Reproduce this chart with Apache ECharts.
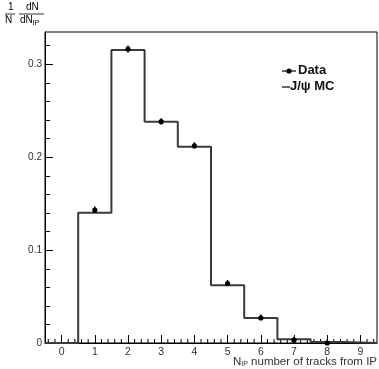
<!DOCTYPE html>
<html>
<head>
<meta charset="utf-8">
<script src="https://cdn.jsdelivr.net/npm/echarts@6/dist/echarts.min.js"></script>
<style>html,body{margin:0;padding:0;background:#fff}#c{width:379px;height:369px}</style>
</head>
<body>
<div id="c"></div>
<script>
// bin centres (number of tracks from IP)
var bins = [0, 1, 2, 3, 4, 5, 6, 7, 8, 9];
// J/psi MC histogram contents
var mcValues = [0, 0.140, 0.315, 0.238, 0.211, 0.062, 0.027, 0.004, 0.001, 0];
// Data points
var dataX = [1, 2, 3, 4, 5, 6, 7, 8];
var dataValues = [0.143, 0.316, 0.238, 0.212, 0.064, 0.027, 0.003, 0.0];
var dataErrors = [0.003, 0.004, 0.003, 0.003, 0.002, 0.001, 0.001, 0.0];
// tick labels
var xTicks = [0, 1, 2, 3, 4, 5, 6, 7, 8, 9];

var FONT = 'Liberation Sans, Arial, sans-serif';

var stepPts = [];
bins.forEach(function (b, i) {
  stepPts.push([b - 0.5, mcValues[i]]);
  stepPts.push([b + 0.5, mcValues[i]]);
});
var minorX = [];
for (var k = -2; k <= 47; k++) {
  var v = Math.round(k * 0.2 * 100) / 100;
  if (v > -0.5 && v < 9.5 && Math.abs(v - Math.round(v)) > 1e-6) minorX.push([v, 0]);
}
var minorY = [];
for (var j = 1; j <= 16; j++) {
  if (j % 5 !== 0) minorY.push([0, Math.round(j * 0.02 * 1000) / 1000]);
}
var pts = dataX.map(function (x, i) { return [x, dataValues[i], dataErrors[i]]; });

var chart = echarts.init(document.getElementById('c'), null, {renderer: 'canvas'});
chart.setOption({
  animation: false,
  backgroundColor: '#fff',
  grid: {left: 45, right: 2, top: 32, bottom: 26, show: true, borderColor: '#000', borderWidth: 1, backgroundColor: 'transparent'},
  xAxis: {
    type: 'value', min: -0.5, max: 9.5,
    axisLine: {show: true, onZero: false, lineStyle: {color: '#000', width: 1}},
    axisTick: {show: true, inside: true, length: 8, customValues: xTicks, lineStyle: {color: '#000'}},
    axisLabel: {show: true, customValues: xTicks, color: '#333', fontSize: 10.5, fontFamily: FONT, margin: 4},
    splitLine: {show: false}
  },
  yAxis: {
    type: 'value', min: 0, max: 0.3344, interval: 0.1,
    axisLine: {show: true, onZero: false, lineStyle: {color: '#000', width: 1}},
    axisTick: {show: true, inside: true, length: 8, lineStyle: {color: '#000'}},
    minorTick: {show: false},
    axisLabel: {color: '#333', fontSize: 10, fontFamily: FONT, margin: 3, showMaxLabel: false,
      formatter: function (v) { return v === 0 ? '0' : String(Math.round(v * 10) / 10); }},
    splitLine: {show: false}, minorSplitLine: {show: false}
  },
  series: [{
    name: 'J/ψ MC', type: 'line', data: stepPts, symbol: 'none',
    lineStyle: {color: '#3a3a3a', width: 2}, z: 3
  }, {
    name: 'Data', type: 'custom', data: pts, z: 5,
    encode: {x: 0, y: 1},
    renderItem: function (params, api) {
      var c = api.coord([api.value(0), api.value(1)]);
      var lo = api.coord([api.value(0), api.value(1) - api.value(2)]);
      var hi = api.coord([api.value(0), api.value(1) + api.value(2)]);
      return {type: 'group', children: [
        {type: 'line', shape: {x1: c[0], y1: Math.min(lo[1], c[1] + 3.5), x2: c[0], y2: Math.min(hi[1], c[1] - 3.5)}, style: {stroke: '#000', lineWidth: 1.5}},
        {type: 'circle', shape: {cx: c[0], cy: c[1], r: 2.6}, style: {fill: '#000'}}
      ]};
    }
  }, {
    name: 'minorTicksX', type: 'custom', data: minorX, silent: true, z: 2,
    encode: {x: 0, y: 1}, clip: false,
    renderItem: function (params, api) {
      var c = api.coord([api.value(0), 0]);
      return {type: 'line', shape: {x1: c[0], y1: c[1], x2: c[0], y2: c[1] - 4}, style: {stroke: '#000', lineWidth: 1}};
    }
  }, {
    name: 'minorTicksY', type: 'custom', data: minorY, silent: true, z: 2,
    encode: {x: 0, y: 1}, clip: false,
    renderItem: function (params, api) {
      var c = api.coord([-0.5, api.value(1)]);
      var y = Math.round(c[1]) + 0.5;
      return {type: 'line', shape: {x1: c[0], y1: y, x2: c[0] + 5, y2: y}, style: {stroke: '#000', lineWidth: 1}};
    }
  }],
  graphic: [
    // legend
    {type: 'line', shape: {x1: 282, y1: 71, x2: 296, y2: 71}, style: {stroke: '#000', lineWidth: 1.2}},
    {type: 'circle', shape: {cx: 289, cy: 71, r: 2.6}, style: {fill: '#000'}},
    {type: 'text', left: 298, top: 64, style: {text: 'Data', fontSize: 13, fontWeight: 'bold', fontFamily: FONT, fill: '#111'}},
    {type: 'line', shape: {x1: 282, y1: 87, x2: 290, y2: 87}, style: {stroke: '#000', lineWidth: 1.2}},
    {type: 'text', left: 290, top: 80, style: {text: 'J/ψ MC', fontSize: 13, fontWeight: 'bold', fontFamily: FONT, fill: '#111'}},
    // y title
    {type: 'text', left: 8, top: 2, style: {text: '1', fontSize: 10, fontFamily: FONT, fill: '#000'}},
    {type: 'line', shape: {x1: 5, y1: 14, x2: 15, y2: 14}, style: {stroke: '#000', lineWidth: 0.8}},
    {type: 'text', left: 5, top: 15, style: {text: 'N', fontSize: 10, fontFamily: FONT, fill: '#000'}},
    {type: 'text', left: 26, top: 2, style: {text: 'dN', fontSize: 10, fontFamily: FONT, fill: '#000'}},
    {type: 'line', shape: {x1: 19, y1: 14, x2: 44, y2: 14}, style: {stroke: '#000', lineWidth: 0.8}},
    {type: 'text', left: 20, top: 15, style: {text: '{a|dN}{b|IP}', fontFamily: FONT, fill: '#000',
      rich: {a: {fontSize: 10, fontFamily: FONT}, b: {fontSize: 7, fontFamily: FONT, padding: [6, 0, 0, 0]}}}},
    // x title
    {type: 'text', right: 2, top: 356, style: {text: '{a|N}{b|IP}{a| number of tracks from IP}', fill: '#333',
      rich: {a: {fontSize: 11.5, fontFamily: FONT, fill: '#333'}, b: {fontSize: 7, fontFamily: FONT, fill: '#333', padding: [5, 0, 0, 0]}}}}
  ]
});
</script>
</body>
</html>
